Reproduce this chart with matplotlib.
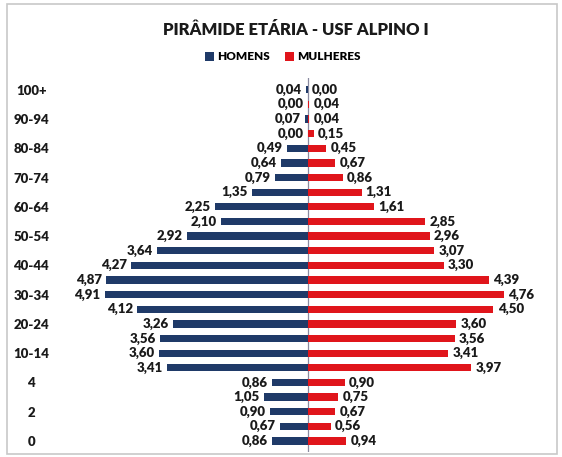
import matplotlib
matplotlib.use("Agg")
import matplotlib.pyplot as plt
from matplotlib.patches import Rectangle
import numpy as np

plt.rcParams['font.family'] = ['Lato', 'DejaVu Sans']

age_groups = ['0', '1', '2', '3', '4', '5-9', '10-14', '15-19', '20-24', '25-29',
              '30-34', '35-39', '40-44', '45-49', '50-54', '55-59', '60-64', '65-69',
              '70-74', '75-79', '80-84', '85-89', '90-94', '95-99', '100+']
homens = [0.86, 0.67, 0.90, 1.05, 0.86, 3.41, 3.60, 3.56, 3.26, 4.12,
          4.91, 4.87, 4.27, 3.64, 2.92, 2.10, 2.25, 1.35, 0.79, 0.64,
          0.49, 0.00, 0.07, 0.00, 0.04]
mulheres = [0.94, 0.56, 0.67, 0.75, 0.90, 3.97, 3.41, 3.56, 3.60, 4.50,
            4.76, 4.39, 3.30, 3.07, 2.96, 2.85, 1.61, 1.31, 0.86, 0.67,
            0.45, 0.15, 0.04, 0.04, 0.00]
shown_labels = ['0', '2', '4', '10-14', '20-24', '30-34', '40-44', '50-54',
                '60-64', '70-74', '80-84', '90-94', '100+']

blue = '#1f3a68'
red = '#e0151b'

fig = plt.figure(figsize=(5.62, 4.57), dpi=100)
W, H = 562, 457
ax = fig.add_axes([70 / W, 1 - 452 / H, (545 - 70) / W, (452 - 78) / H])

y = np.arange(len(age_groups))
h = 0.5
ax.barh(y, [-v for v in homens], height=h, color=blue, label='HOMENS')
ax.barh(y, mulheres, height=h, color=red, label='MULHERES')

for yi, v in zip(y, homens):
    ax.annotate(f"{v:.2f}".replace('.', ','), (-v, yi), xytext=(-3, 0),
                textcoords='offset points', ha='right', va='center',
                fontsize=9.5, fontweight='heavy', color='#1a1a1a')
for yi, v in zip(y, mulheres):
    ax.annotate(f"{v:.2f}".replace('.', ','), (v, yi), xytext=(3, 0),
                textcoords='offset points', ha='left', va='center',
                fontsize=9.5, fontweight='heavy', color='#1a1a1a')

ax.axvline(0, color='#8a8aa0', lw=0.9, zorder=0)
ax.set_xlim(-5.75, 5.75)
ax.set_ylim(-0.75, len(age_groups) - 0.2)
ticks = [age_groups.index(l) for l in shown_labels]
ax.set_yticks(ticks)
ax.set_yticklabels(shown_labels, fontsize=9.5, fontweight='heavy', color='#1a1a1a')
for lbl in ax.get_yticklabels():
    lbl.set_ha('center')
ax.tick_params(axis='y', length=0, pad=28)
ax.set_xticks([])
for s in ax.spines.values():
    s.set_visible(False)

fig.text(296 / W, 1 - 30 / H, 'PIRÂMIDE ETÁRIA - USF ALPINO I', ha='center', va='center',
         fontsize=12, fontweight='heavy', color='#1a1a1a')
leg = fig.legend(loc='center', bbox_to_anchor=(283 / W, 1 - 57 / H), ncol=2, frameon=False,
                 prop={'weight': 'heavy', 'size': 8.5}, handlelength=0.7,
                 handleheight=0.7, handletextpad=0.3, columnspacing=1.3)

fig.patches.append(Rectangle((7 / W, 1 - 454 / H), (557 - 7) / W, (454 - 4) / H,
                             transform=fig.transFigure, fill=False,
                             edgecolor='#c8c8c8', lw=1.2))

fig.savefig('out.png', dpi=100)
